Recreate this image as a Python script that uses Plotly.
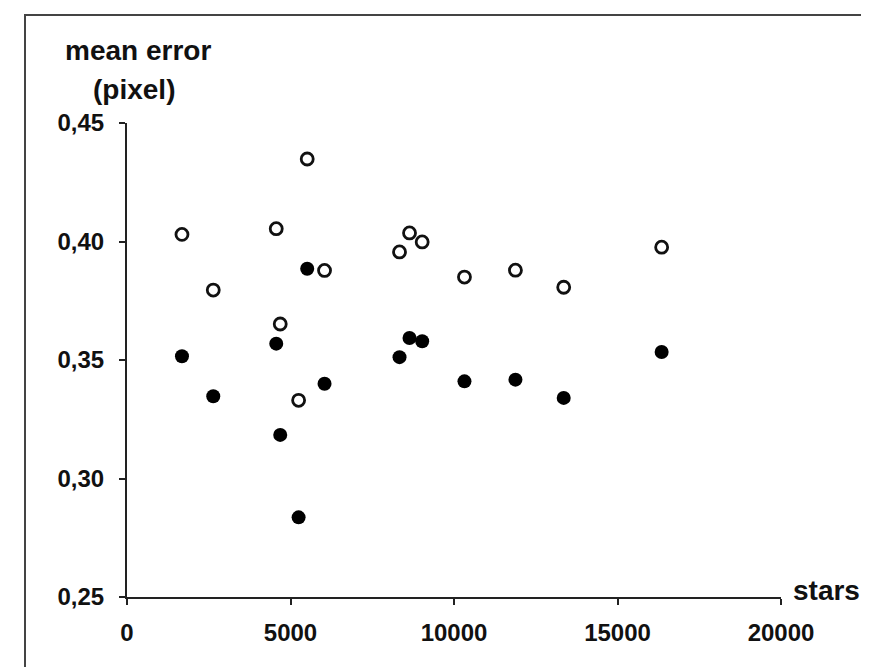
import plotly.graph_objects as go

# data
stars = [1681, 2638, 4564, 4686, 5248, 5511, 6041, 8334, 8640, 9027, 10320, 11879, 13355, 16350]
err_open = [0.4030, 0.3795, 0.4054, 0.3652, 0.3330, 0.4348, 0.3878, 0.3956, 0.4036, 0.3998, 0.3850, 0.3879, 0.3807, 0.3976]
err_filled = [0.3516, 0.3347, 0.3569, 0.3184, 0.2836, 0.3885, 0.3400, 0.3512, 0.3593, 0.3579, 0.3410, 0.3417, 0.3340, 0.3534]

x_ticks = [0, 5000, 10000, 15000, 20000]
x_labels = ["0", "5000", "10000", "15000", "20000"]
y_ticks = [0.25, 0.30, 0.35, 0.40, 0.45]
y_labels = ["0,25", "0,30", "0,35", "0,40", "0,45"]

W, H = 869, 667
L, R, T, B = 119, 773, 115, 589
pw, ph = R - L, B - T

def px(x):
    return (x - L) / pw

def py(y):
    return (B - y) / ph

fig = go.Figure()
fig.add_trace(go.Scatter(
    x=stars, y=err_filled, mode="markers",
    marker=dict(symbol="circle", size=14, color="black", line=dict(width=0)),
    showlegend=False, cliponaxis=False))
fig.add_trace(go.Scatter(
    x=stars, y=err_open, mode="markers",
    marker=dict(symbol="circle", size=12, color="white", line=dict(width=2.8, color="#111")),
    showlegend=False, cliponaxis=False))

font = dict(family="Liberation Sans, Arial, sans-serif", size=24, color="#111", weight="bold")
axis_common = dict(showline=True, linewidth=2, linecolor="#222", ticks="outside", ticklen=6,
                   tickwidth=2, tickcolor="#222", showgrid=False, zeroline=False, tickfont=font)

fig.update_xaxes(range=[0, 20000], tickvals=x_ticks, ticktext=x_labels,
                 ticklabelstandoff=7, **axis_common)
fig.update_yaxes(range=[0.25, 0.45], tickvals=y_ticks, ticktext=y_labels,
                 ticklabelstandoff=10, **axis_common)

tfont = dict(family="Liberation Sans, Arial, sans-serif", size=28, color="#111", weight="bold")
fig.add_annotation(text="mean error", xref="paper", yref="paper", x=px(130), y=py(42),
                   xanchor="center", yanchor="middle", showarrow=False, font=tfont)
fig.add_annotation(text="(pixel)", xref="paper", yref="paper", x=px(126), y=py(81),
                   xanchor="center", yanchor="middle", showarrow=False, font=tfont)
fig.add_annotation(text="stars", xref="paper", yref="paper", x=px(783), y=py(582),
                   xanchor="left", yanchor="middle", showarrow=False, font=tfont)

fig.add_shape(type="rect", xref="paper", yref="paper",
              x0=px(17), x1=px(863), y0=py(675), y1=py(7),
              line=dict(color="#444", width=2), fillcolor="rgba(0,0,0,0)", layer="below")

fig.update_layout(width=W, height=H, margin=dict(l=L, r=W - R, t=T, b=H - B, pad=0),
                  paper_bgcolor="white", plot_bgcolor="white", showlegend=False)

fig.write_html("out.html")
